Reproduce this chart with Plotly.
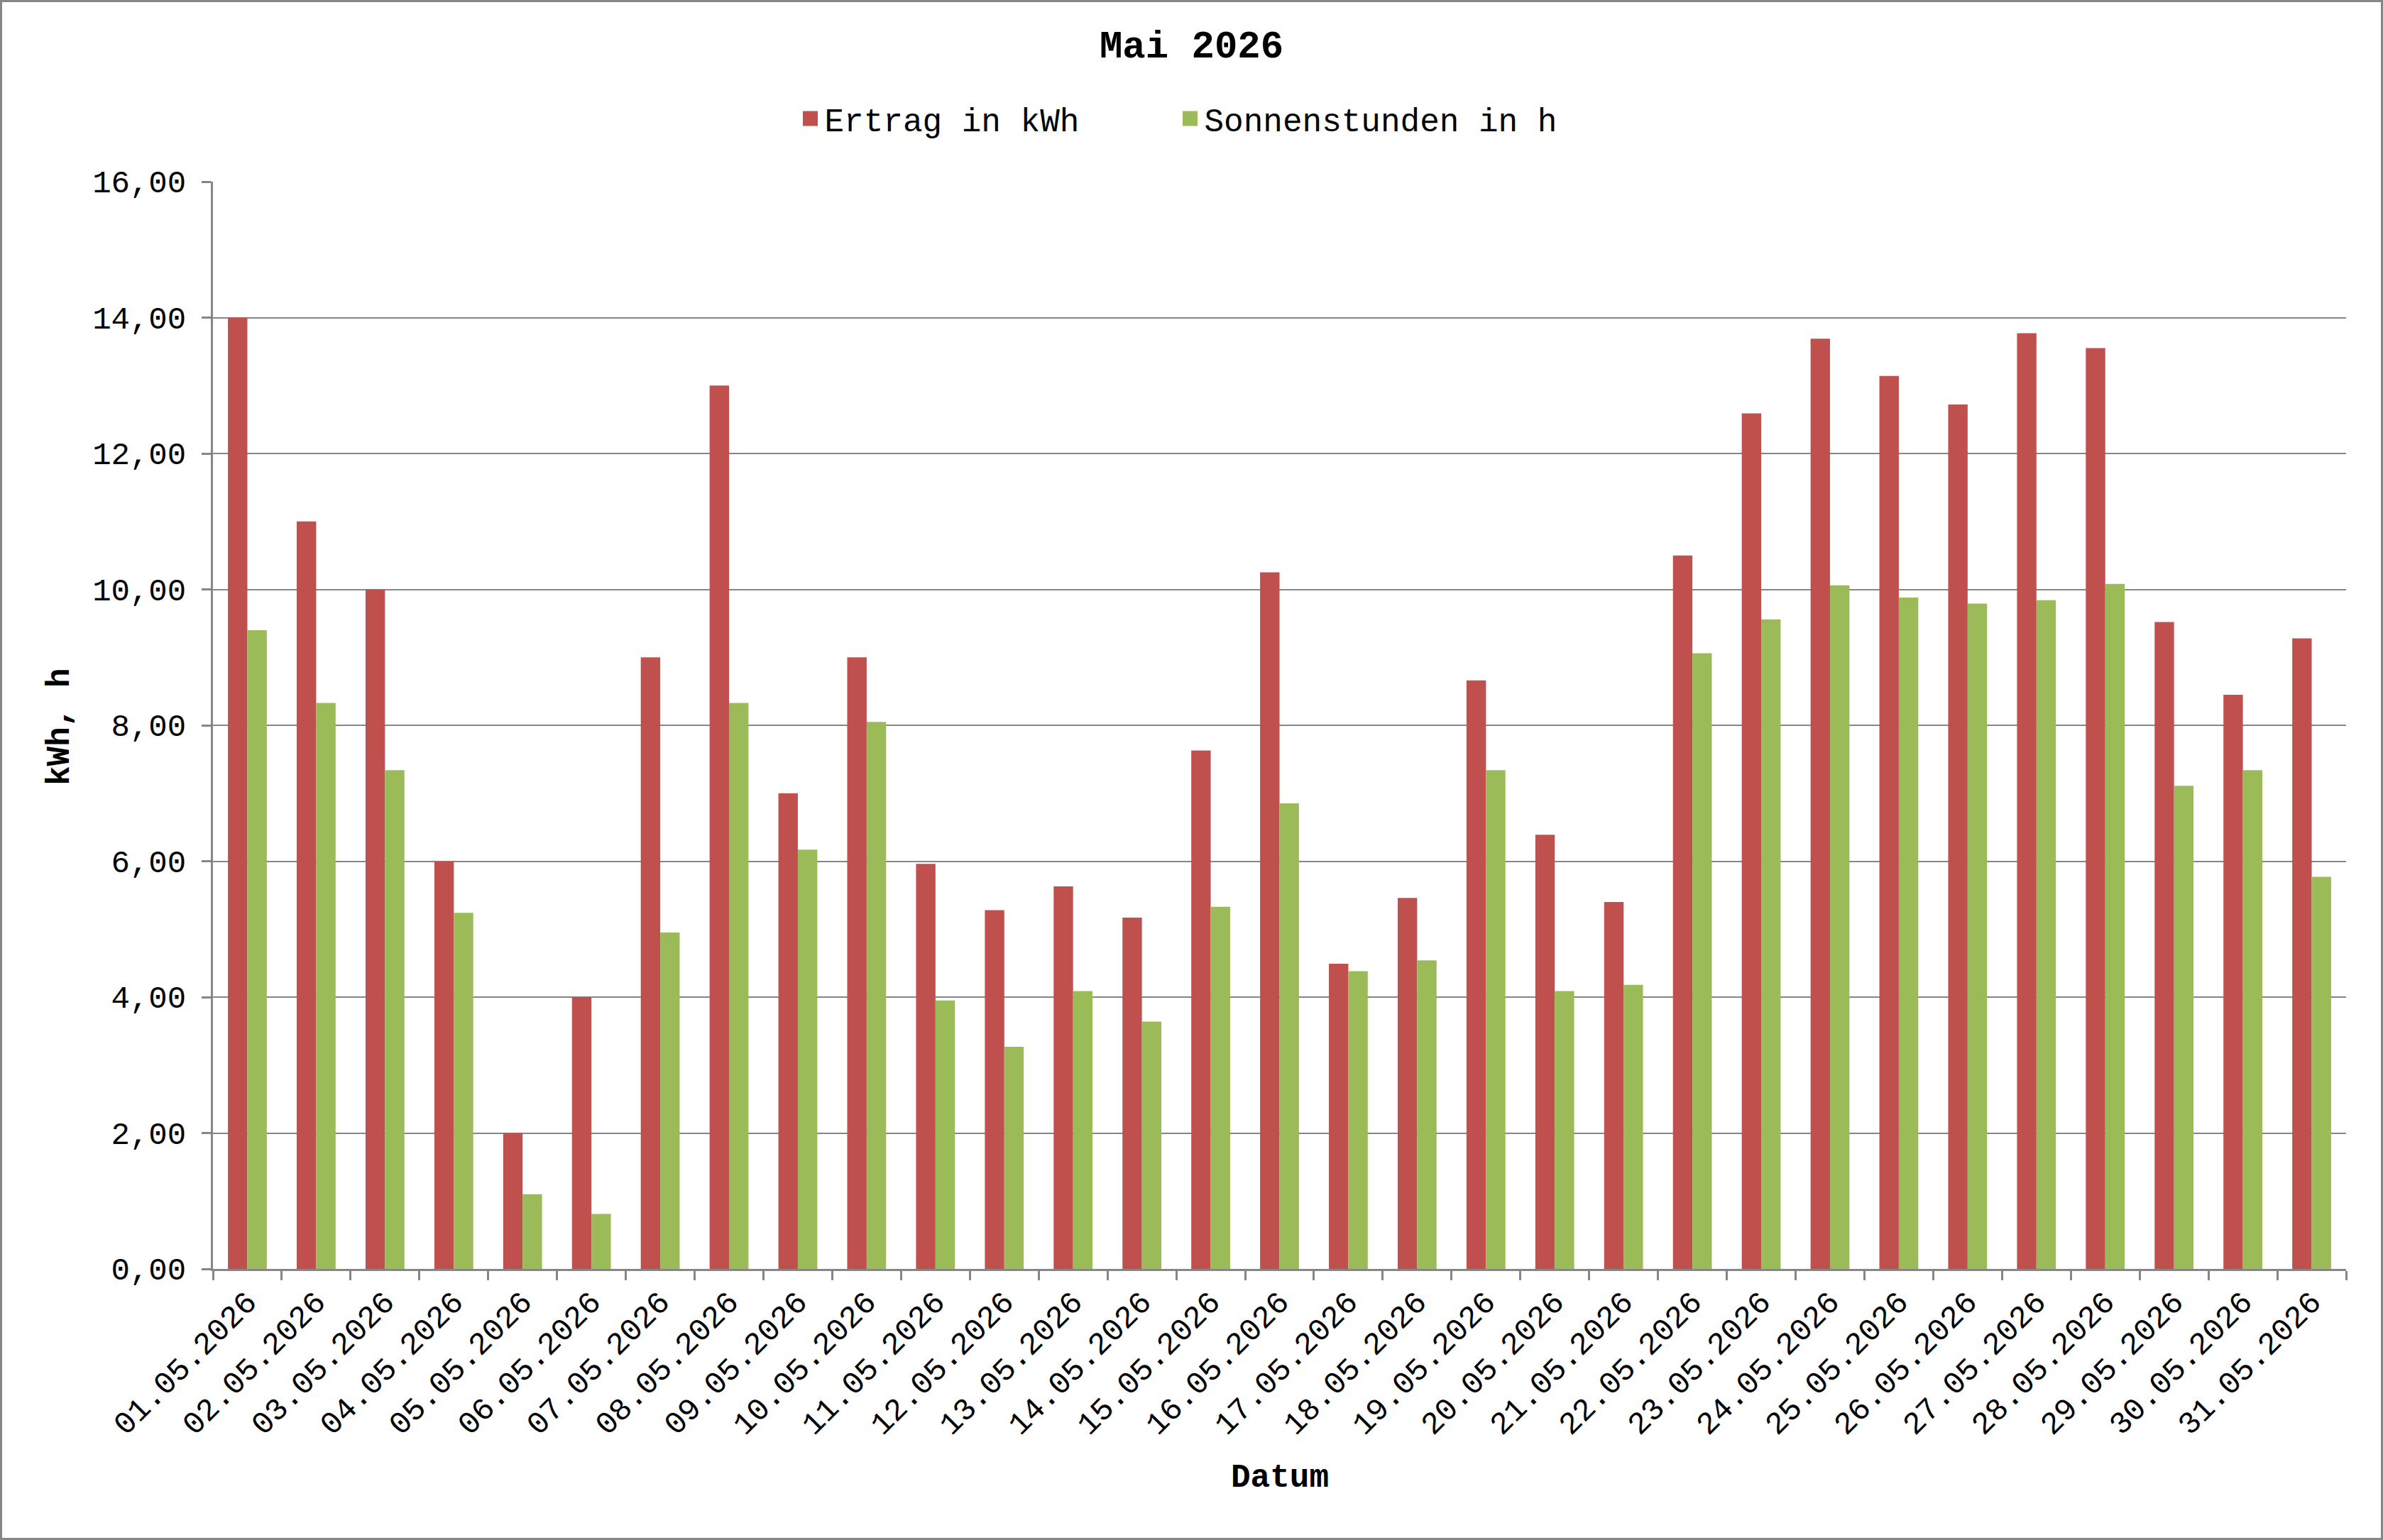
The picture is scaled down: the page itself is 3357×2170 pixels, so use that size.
import plotly.graph_objects as go

# ---------------- data ----------------
dates = ["01.05.2026", "02.05.2026", "03.05.2026", "04.05.2026", "05.05.2026",
         "06.05.2026", "07.05.2026", "08.05.2026", "09.05.2026", "10.05.2026",
         "11.05.2026", "12.05.2026", "13.05.2026", "14.05.2026", "15.05.2026",
         "16.05.2026", "17.05.2026", "18.05.2026", "19.05.2026", "20.05.2026",
         "21.05.2026", "22.05.2026", "23.05.2026", "24.05.2026", "25.05.2026",
         "26.05.2026", "27.05.2026", "28.05.2026", "29.05.2026", "30.05.2026",
         "31.05.2026"]

ertrag_kwh = [14.00, 11.00, 10.00, 6.00, 2.00, 4.00, 9.00, 13.00, 7.00, 9.00,
              5.96, 5.28, 5.63, 5.17, 7.63, 10.25, 4.49, 5.46, 8.66, 6.39,
              5.40, 10.50, 12.59, 13.69, 13.14, 12.72, 13.77, 13.55, 9.52, 8.45,
              9.28]

sonnenstunden_h = [9.40, 8.33, 7.34, 5.24, 1.10, 0.81, 4.95, 8.33, 6.17, 8.05,
                   3.95, 3.27, 4.09, 3.64, 5.33, 6.85, 4.38, 4.54, 7.34, 4.09,
                   4.18, 9.06, 9.56, 10.06, 9.88, 9.79, 9.84, 10.08, 7.11, 7.34,
                   5.77]

series_names = ["Ertrag in kWh", "Sonnenstunden in h"]
title_text = "Mai 2026"
x_title = "Datum"
y_title = "kWh, h"

# ---------------- style ----------------
FONT = "Liberation Mono, Courier New, monospace"
RED = "#C0504D"
GREEN = "#9BBB59"
GRID = "#868686"

W, H = 3357, 2170
ML, MR, MT, MB = 300, 52, 256, 382
PW, PH = W - ML - MR, H - MT - MB

fig = go.Figure()
for name, vals, col in [(series_names[0], ertrag_kwh, RED),
                        (series_names[1], sonnenstunden_h, GREEN)]:
    fig.add_trace(go.Bar(x=dates, y=vals, name=name, showlegend=False,
                         legendgroup=name,
                         marker=dict(color=col, line=dict(width=0))))
# legend proxies (larger square swatches like the original)
for name, col in [(series_names[0], RED), (series_names[1], GREEN)]:
    fig.add_trace(go.Scatter(x=[None], y=[None], mode="markers", name=name,
                             legendgroup=name, hoverinfo="skip",
                             marker=dict(symbol="square", size=16, color=col,
                                         line=dict(color=col, width=5))))

def px_to_paper_x(px):
    return (px - ML) / PW

def px_to_paper_y(py):
    return (H - MB - py) / PH

fig.update_layout(
    width=W, height=H,
    margin=dict(l=ML, r=MR, t=MT, b=MB, autoexpand=False),
    paper_bgcolor="white", plot_bgcolor="white",
    separators=",.",
    barmode="group", bargap=0.435, bargroupgap=0,
    font=dict(family=FONT, color="black", size=44),
    title=dict(text=title_text, x=0.5, xref="container", xanchor="center",
               y=1 - 62 / H, yref="container", yanchor="middle",
               font=dict(family=FONT, size=54, color="black", weight="bold")),
    legend=dict(orientation="h", x=0.5 - 22 / W, xanchor="center", xref="container",
                y=1 - 167 / H, yanchor="middle", yref="container",
                font=dict(family=FONT, size=46, color="black"),
                entrywidth=490, entrywidthmode="pixels", itemsizing="trace",
                bgcolor="rgba(0,0,0,0)", traceorder="normal"),
    showlegend=True,
    xaxis=dict(type="category", categoryorder="array", categoryarray=dates,
               showgrid=False, showline=True, linecolor=GRID,
               linewidth=3, ticks="outside", tickson="boundaries", ticklen=13,
               tickwidth=3, tickcolor=GRID, tickangle=-45,
               tickfont=dict(family=FONT, size=44, color="black"),
               automargin=False),
    yaxis=dict(range=[0, 16], dtick=2, tick0=0, tickformat=".2f",
               showgrid=True, gridcolor=GRID, gridwidth=2, zeroline=False,
               showline=True, linecolor=GRID, linewidth=3,
               ticks="outside", ticklen=13, tickwidth=3, tickcolor=GRID,
               ticklabelstandoff=13,
               tickfont=dict(family=FONT, size=44, color="black"),
               automargin=False),
    annotations=[
        dict(text=x_title, xref="paper", yref="paper",
             x=px_to_paper_x(1803), y=px_to_paper_y(2083),
             xanchor="center", yanchor="middle", showarrow=False,
             font=dict(family=FONT, size=46, color="black", weight="bold")),
        dict(text=y_title, xref="paper", yref="paper",
             x=px_to_paper_x(85), y=px_to_paper_y(1024),
             xanchor="center", yanchor="middle", showarrow=False, textangle=-90,
             font=dict(family=FONT, size=46, color="black", weight="bold")),
    ],
    shapes=[
        dict(type="rect", xref="paper", yref="paper",
             x0=px_to_paper_x(1.5), x1=px_to_paper_x(W - 1.5),
             y0=px_to_paper_y(H - 1.5), y1=px_to_paper_y(1.5),
             line=dict(color=GRID, width=3), fillcolor="rgba(0,0,0,0)",
             layer="above"),
    ],
)

fig.write_html("out.html")
